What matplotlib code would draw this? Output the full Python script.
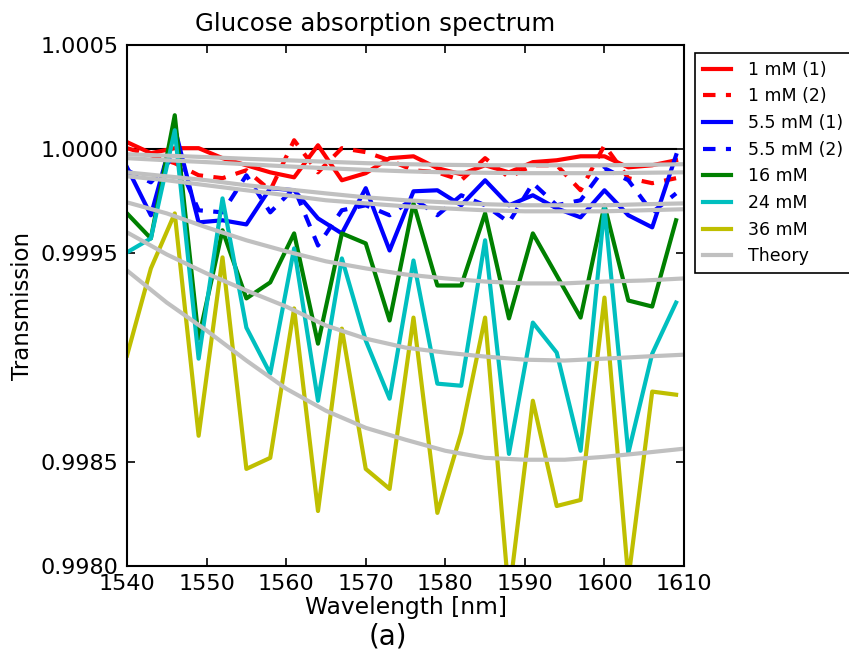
import matplotlib
matplotlib.use("Agg")
import matplotlib.pyplot as plt
from matplotlib.ticker import FixedLocator, FixedFormatter

plt.rcParams['font.family'] = ['DejaVu Sans']

# Measured wavelengths (nm)
wl = [1540, 1543, 1546, 1549, 1552, 1555, 1558, 1561, 1564, 1567, 1570, 1573,
      1576, 1579, 1582, 1585, 1588, 1591, 1594, 1597, 1600, 1603, 1606, 1609]

mM1_a = [1.000034, 0.999981, 1.000005, 1.000005, 0.999957, 0.999923, 0.999889, 0.999865,
         1.000019, 0.999851, 0.999885, 0.999957, 0.999966, 0.999909, 0.999880, 0.999923,
         0.999889, 0.999938, 0.999947, 0.999966, 0.999966, 0.999913, 0.999923, 0.999947]
mM1_b = [1.000005, 0.999971, 0.999933, 0.999875, 0.999861, 0.999899, 0.999803, 1.000043,
         0.999889, 1.000005, 0.999986, 0.999947, 0.999899, 0.999889, 0.999851, 0.999957,
         0.999865, 0.999923, 0.999923, 0.999803, 1.000019, 0.999861, 0.999837, 0.999861]
mM55_a = [0.999913, 0.999683, 1.000101, 0.999649, 0.999659, 0.999639, 0.999813, 0.999803,
          0.999668, 0.999596, 0.999813, 0.999514, 0.999798, 0.999803, 0.999731, 0.999851,
          0.999731, 0.999779, 0.999716, 0.999673, 0.999803, 0.999683, 0.999625, 0.999971]
mM55_b = [0.999899, 0.999841, 0.999971, 0.999707, 0.999697, 0.999875, 0.999697, 0.999813,
          0.999538, 0.999707, 0.999731, 0.999683, 0.999764, 0.999683, 0.999779, 0.999731,
          0.999649, 0.999837, 0.999731, 0.999755, 0.999909, 0.999851, 0.999697, 0.999788]
mM16 = [0.999692, 0.999572, 1.000163, 0.999091, 0.999611, 0.999284, 0.999361, 0.999596,
        0.999067, 0.999596, 0.999548, 0.999178, 0.999740, 0.999346, 0.999346, 0.999692,
        0.999188, 0.999596, 0.999394, 0.999192, 0.999731, 0.999274, 0.999245, 0.999659]
mM24 = [0.999505, 0.999572, 1.000091, 0.998995, 0.999764, 0.999144, 0.998923, 0.999524,
        0.998793, 0.999476, 0.999082, 0.998803, 0.999466, 0.998875, 0.998865, 0.999563,
        0.998538, 0.999168, 0.999024, 0.998553, 0.999721, 0.998543, 0.999019, 0.999264]
mM36 = [0.999010, 0.999428, 0.999692, 0.998625, 0.999481, 0.998466, 0.998519, 0.999236,
        0.998264, 0.999139, 0.998466, 0.998370, 0.999192, 0.998255, 0.998639, 0.999192,
        0.997856, 0.998793, 0.998288, 0.998317, 0.999288, 0.997937, 0.998837, 0.998822]

# Theory curves
wl_th = [1540, 1545, 1550, 1555, 1560, 1565, 1570, 1575, 1580, 1585, 1590, 1595, 1600, 1605, 1610]
th_1a = [0.999976, 0.999969, 0.999962, 0.999954, 0.999947, 0.999940, 0.999933, 0.999928,
         0.999925, 0.999923, 0.999923, 0.999923, 0.999923, 0.999925, 0.999928]
th_1b = [0.999957, 0.999947, 0.999938, 0.999928, 0.999918, 0.999909, 0.999901, 0.999894,
         0.999889, 0.999887, 0.999885, 0.999885, 0.999885, 0.999887, 0.999889]
th_55a = [0.999889, 0.999870, 0.999851, 0.999827, 0.999808, 0.999788, 0.999769, 0.999755,
          0.999745, 0.999736, 0.999731, 0.999731, 0.999731, 0.999736, 0.999740]
th_55b = [0.999870, 0.999851, 0.999827, 0.999803, 0.999779, 0.999755, 0.999740, 0.999726,
          0.999716, 0.999707, 0.999702, 0.999702, 0.999702, 0.999707, 0.999712]
th_16 = [0.999745, 0.999692, 0.999625, 0.999563, 0.999510, 0.999462, 0.999428, 0.999399,
         0.999380, 0.999365, 0.999356, 0.999356, 0.999365, 0.999370, 0.999380]
th_24 = [0.999601, 0.999495, 0.999404, 0.999322, 0.999245, 0.999154, 0.999091, 0.999048,
         0.999024, 0.999005, 0.998990, 0.998986, 0.998995, 0.999005, 0.999014]
th_36 = [0.999418, 0.999264, 0.999130, 0.998986, 0.998851, 0.998745, 0.998663, 0.998606,
         0.998553, 0.998519, 0.998510, 0.998510, 0.998524, 0.998543, 0.998563]

ref_x = [1540, 1609]
ref_y = [1.0, 1.0]

yticks = [0.9980, 0.9985, 0.9995, 1.0000, 1.0005]
ytick_labels = ['0.9980', '0.9985', '0.9995', '1.0000', '1.0005']
xticks = [1540, 1550, 1560, 1570, 1580, 1590, 1600, 1610]

fig = plt.figure(figsize=(8.49, 6.60), dpi=100)
ax = fig.add_axes([0.1496, 0.1424, 0.6561, 0.7894])

lw = 3.0
dash = (0, (3, 2.5))
ax.plot(ref_x, ref_y, color='black', lw=1.5)
ax.plot(wl, mM1_a, color='#ff0000', lw=lw, label='1 mM (1)')
ax.plot(wl, mM1_b, color='#ff0000', lw=lw, ls=dash, label='1 mM (2)')
ax.plot(wl, mM55_a, color='#0000ff', lw=lw, label='5.5 mM (1)')
ax.plot(wl, mM55_b, color='#0000ff', lw=lw, ls=dash, label='5.5 mM (2)')
ax.plot(wl, mM16, color='#008000', lw=lw, label='16 mM')
ax.plot(wl, mM24, color='#00bfbf', lw=lw, label='24 mM')
ax.plot(wl, mM36, color='#bfbf00', lw=lw, label='36 mM')
gray = '#c0c0c0'
ax.plot(wl_th, th_1a, color=gray, lw=lw, label='Theory')
for th in (th_1b, th_55a, th_55b, th_16, th_24, th_36):
    ax.plot(wl_th, th, color=gray, lw=lw)

ax.set_xlim(1540, 1610)
ax.set_ylim(0.9980, 1.0005)
ax.xaxis.set_major_locator(FixedLocator(xticks))
ax.yaxis.set_major_locator(FixedLocator(yticks))
ax.yaxis.set_major_formatter(FixedFormatter(ytick_labels))
ax.tick_params(direction='in', length=6, width=1.2, top=True, right=True,
               labelsize=16, pad=6)
for s in ax.spines.values():
    s.set_linewidth(1.5)

ax.set_title('Glucose absorption spectrum', fontsize=17.6, pad=10, x=0.445)
ax.set_xlabel('Wavelength [nm]', fontsize=16.8, labelpad=1)
ax.set_ylabel('Transmission', fontsize=16.5, labelpad=5)

leg = ax.legend(loc='upper left', bbox_to_anchor=(1.02, 0.985), borderaxespad=0,
                fontsize=12.5, handlelength=1.6, handletextpad=1.0, labelspacing=0.5,
                fancybox=False, edgecolor='black', framealpha=1, borderpad=0.45)
leg.get_frame().set_linewidth(1.2)

fig.text(0.457, 0.035, '(a)', fontsize=20, ha='center', va='center')

fig.savefig('out.png', dpi=100)
